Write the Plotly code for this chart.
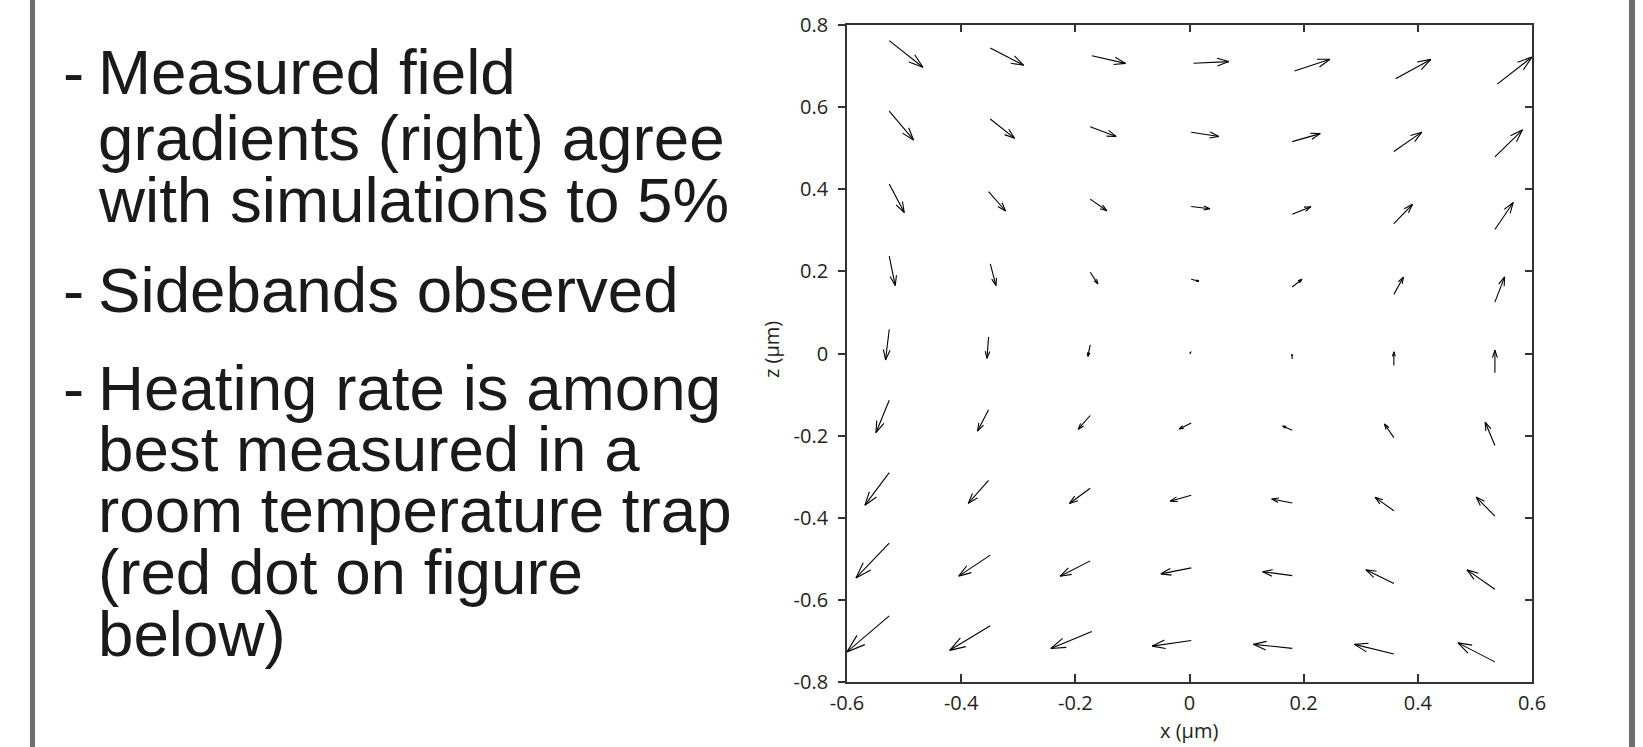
import plotly.graph_objects as go

# ---------------- data ----------------
X_TICKS = [-0.6, -0.4, -0.2, 0.0, 0.2, 0.4, 0.6]
X_TICK_LABELS = ["-0.6", "-0.4", "-0.2", "0", "0.2", "0.4", "0.6"]
Z_TICKS = [-0.8, -0.6, -0.4, -0.2, 0.0, 0.2, 0.4, 0.6, 0.8]
Z_TICK_LABELS = ["-0.8", "-0.6", "-0.4", "-0.2", "0", "0.2", "0.4", "0.6", "0.8"]

# arrow tail positions (um), rows top -> bottom, columns left -> right
X_TAIL = [
    [-0.526, -0.349, -0.171, 0.007, 0.184, 0.361, 0.539],
    [-0.526, -0.349, -0.174, 0.003, 0.180, 0.358, 0.535],
    [-0.526, -0.352, -0.174, 0.003, 0.180, 0.358, 0.535],
    [-0.526, -0.349, -0.174, 0.003, 0.180, 0.358, 0.535],
    [-0.526, -0.352, -0.174, 0.003, 0.180, 0.358, 0.535],
    [-0.526, -0.352, -0.174, 0.003, 0.180, 0.358, 0.535],
    [-0.526, -0.352, -0.174, 0.003, 0.180, 0.358, 0.535],
    [-0.526, -0.349, -0.174, 0.003, 0.180, 0.358, 0.535],
    [-0.526, -0.349, -0.171, 0.003, 0.180, 0.358, 0.535],
]
Z_TAIL = [
    [0.762, 0.744, 0.725, 0.707, 0.688, 0.669, 0.656],
    [0.590, 0.571, 0.552, 0.539, 0.516, 0.492, 0.479],
    [0.413, 0.394, 0.376, 0.358, 0.339, 0.316, 0.302],
    [0.237, 0.218, 0.198, 0.181, 0.162, 0.144, 0.125],
    [0.059, 0.040, 0.021, 0.005, -0.013, -0.029, -0.047],
    [-0.114, -0.137, -0.151, -0.169, -0.187, -0.205, -0.224],
    [-0.290, -0.309, -0.328, -0.345, -0.364, -0.383, -0.396],
    [-0.462, -0.491, -0.505, -0.522, -0.541, -0.560, -0.574],
    [-0.639, -0.663, -0.677, -0.699, -0.718, -0.732, -0.751],
]
# arrow components (field gradient, plotted in um units)
U = [
    [0.0590, 0.0585, 0.0589, 0.0620, 0.0620, 0.0618, 0.0608],
    [0.0426, 0.0427, 0.0455, 0.0485, 0.0490, 0.0490, 0.0485],
    [0.0263, 0.0298, 0.0293, 0.0328, 0.0328, 0.0326, 0.0321],
    [0.0105, 0.0100, 0.0135, 0.0135, 0.0170, 0.0168, 0.0170],
    [-0.0065, -0.0028, -0.0040, -0.0023, -0.0005, 0.0000, 0.0000],
    [-0.0233, -0.0193, -0.0210, -0.0210, -0.0168, -0.0165, -0.0170],
    [-0.0426, -0.0356, -0.0363, -0.0368, -0.0361, -0.0328, -0.0328],
    [-0.0583, -0.0554, -0.0526, -0.0531, -0.0519, -0.0490, -0.0490],
    [-0.0741, -0.0711, -0.0718, -0.0683, -0.0683, -0.0690, -0.0648],
]
W = [
    [-0.0648, -0.0421, -0.0185, 0.0039, 0.0285, 0.0472, 0.0658],
    [-0.0699, -0.0470, -0.0234, -0.0105, 0.0195, 0.0470, 0.0658],
    [-0.0699, -0.0470, -0.0285, -0.0056, 0.0185, 0.0472, 0.0658],
    [-0.0716, -0.0528, -0.0285, -0.0049, 0.0188, 0.0421, 0.0616],
    [-0.0748, -0.0519, -0.0282, -0.0049, 0.0110, 0.0331, 0.0553],
    [-0.0789, -0.0519, -0.0334, -0.0146, 0.0105, 0.0334, 0.0567],
    [-0.0794, -0.0560, -0.0373, -0.0146, 0.0097, 0.0326, 0.0463],
    [-0.0845, -0.0511, -0.0373, -0.0146, 0.0097, 0.0331, 0.0470],
    [-0.0877, -0.0599, -0.0414, -0.0136, 0.0097, 0.0236, 0.0463],
]

BULLETS = [
    ["Measured field", "gradients (right) agree", "with simulations to 5%"],
    ["Sidebands observed"],
    ["Heating rate is among", "best measured in a", "room temperature trap",
     "(red dot on figure", "below)"],
]

# ---------------- layout constants ----------------
FIG_W, FIG_H = 1643, 747
ML, MR, MT, MB = 847, 111, 25, 65
PW, PH = FIG_W - ML - MR, FIG_H - MT - MB
XR = [-0.6, 0.6]
ZR = [-0.8, 0.8]
SX = PW / (XR[1] - XR[0])
SY = PH / (ZR[1] - ZR[0])


def px_x(px):
    return (px - ML) / PW


def px_y(py):
    return 1 - (py - MT) / PH


# ---------------- quiver (MATLAB style heads) ----------------
ALPHA, BETA = 0.33, 0.33
qx, qy = [], []
for r in range(len(X_TAIL)):
    for c in range(len(X_TAIL[r])):
        x0, z0, u, w = X_TAIL[r][c], Z_TAIL[r][c], U[r][c], W[r][c]
        hx, hz = x0 + u, z0 + w
        pu, pv = u * SX, w * SY
        b1x = hx - ALPHA * (pu + BETA * pv) / SX
        b1z = hz - ALPHA * (pv - BETA * pu) / SY
        b2x = hx - ALPHA * (pu - BETA * pv) / SX
        b2z = hz - ALPHA * (pv + BETA * pu) / SY
        qx += [x0, hx, None, b1x, hx, b2x, None]
        qy += [z0, hz, None, b1z, hz, b2z, None]

fig = go.Figure()
fig.add_trace(go.Scatter(x=qx, y=qy, mode="lines",
                         line=dict(color="black", width=1.1),
                         hoverinfo="skip", showlegend=False))
# helper invisible trace to bind top/right axes
fig.add_trace(go.Scatter(x=[XR[0]], y=[ZR[0]], xaxis="x2", yaxis="y2",
                         mode="markers", marker=dict(opacity=0),
                         hoverinfo="skip", showlegend=False))

AX = "#333333"
TICKFONT = dict(family="Open Sans", size=20, color="#231f20")

fig.update_layout(
    width=FIG_W, height=FIG_H,
    margin=dict(l=ML, r=MR, t=MT, b=MB, pad=0),
    paper_bgcolor="white", plot_bgcolor="white",
    showlegend=False,
    xaxis=dict(range=XR, tickvals=X_TICKS, ticktext=X_TICK_LABELS,
               ticks="inside", ticklen=8, tickwidth=1.5, tickcolor=AX,
               showline=True, linecolor=AX, linewidth=1.8,
               showgrid=False, zeroline=False, tickfont=TICKFONT,
               ticklabelstandoff=2),
    yaxis=dict(range=ZR, tickvals=Z_TICKS, ticktext=Z_TICK_LABELS,
               ticks="outside", ticklen=7, tickwidth=1.5, tickcolor=AX,
               showline=True, linecolor=AX, linewidth=1.8,
               showgrid=False, zeroline=False, tickfont=TICKFONT,
               ticklabelstandoff=6),
    xaxis2=dict(range=XR, tickvals=X_TICKS, overlaying="x", side="top",
                anchor="y2", ticks="inside", ticklen=7, tickwidth=1.5,
                tickcolor=AX, showline=True, linecolor=AX, linewidth=1.8,
                showgrid=False, zeroline=False, showticklabels=False),
    yaxis2=dict(range=ZR, tickvals=Z_TICKS, overlaying="y", side="right",
                anchor="x2", ticks="inside", ticklen=7, tickwidth=1.5,
                tickcolor=AX, showline=True, linecolor=AX, linewidth=1.8,
                showgrid=False, zeroline=False, showticklabels=False),
)

ann = []
# axis titles
ann.append(dict(text="x (µm)", xref="paper", yref="paper",
                x=px_x(1189), y=px_y(730), xanchor="center", yanchor="middle",
                showarrow=False, font=dict(family="Open Sans", size=20, color="#231f20")))
ann.append(dict(text="z (µm)", xref="paper", yref="paper",
                x=px_x(771), y=px_y(350), xanchor="center", yanchor="middle",
                textangle=-90, showarrow=False,
                font=dict(family="Open Sans", size=20, color="#231f20")))

# bullet text on the left
TXT = dict(family="Liberation Sans", size=63.7, color="#1a1a1a")
LINE_MID = [[71, 137, 199], [289], [387, 448, 509, 571, 633]]
for b, lines in enumerate(BULLETS):
    ann.append(dict(text="-", xref="paper", yref="paper",
                    x=px_x(61), y=px_y(LINE_MID[b][0]),
                    xanchor="left", yanchor="middle", showarrow=False, font=TXT))
    for i, t in enumerate(lines):
        ann.append(dict(text=t, xref="paper", yref="paper",
                        x=px_x(96), y=px_y(LINE_MID[b][i]),
                        xanchor="left", yanchor="middle", showarrow=False, font=TXT))
fig.update_layout(annotations=ann)

# grey vertical rules of the slide
for xa, xb in [(30, 35), (1629, 1635)]:
    fig.add_shape(type="rect", xref="paper", yref="paper",
                  x0=px_x(xa), x1=px_x(xb), y0=px_y(FIG_H), y1=px_y(0),
                  fillcolor="#6e6e6e", line=dict(width=0), layer="below")

fig.write_html("out.html")
